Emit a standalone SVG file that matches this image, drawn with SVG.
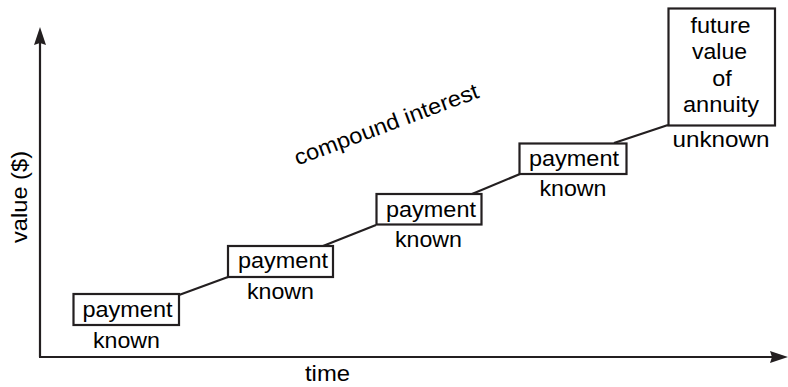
<svg xmlns="http://www.w3.org/2000/svg" width="788" height="387" viewBox="0 0 788 387">
<style>
  text { font-family: "Liberation Sans", Arial, sans-serif; font-size: 22px; fill: #000; text-anchor: middle; }
  .box { fill: #fff; stroke: #231f20; stroke-width: 2.2; }
  .ln { stroke: #231f20; stroke-width: 2.2; fill: none; }
</style>
<rect width="788" height="387" fill="#fff"/>
<g id="axes">
  <line class="ln" x1="40" y1="42" x2="40" y2="357"/>
  <polygon points="40,27 46,45 40,43 34,45" fill="#231f20"/>
  <line class="ln" x1="39" y1="357" x2="780" y2="357"/>
  <polygon points="788,357 770,351 772,357 770,363" fill="#231f20"/>
  <text x="0" y="0" transform="translate(27 197) rotate(-90)" textLength="92" lengthAdjust="spacingAndGlyphs">value ($)</text>
  <text x="327.5" y="380.5" textLength="45" lengthAdjust="spacingAndGlyphs">time</text>
</g>
<g id="connectors">
  <line class="ln" x1="179" y1="295" x2="228" y2="277"/>
  <line class="ln" x1="323" y1="246" x2="376" y2="225"/>
  <line class="ln" x1="472" y1="194" x2="520" y2="174"/>
  <line class="ln" x1="614" y1="143" x2="668" y2="125"/>
</g>
<g id="label-compound">
  <text x="0" y="0" transform="translate(297.5 165.5) rotate(-20.5)" style="text-anchor:start" textLength="195" lengthAdjust="spacingAndGlyphs">compound interest</text>
</g>
<g id="node1">
  <rect class="box" x="73.5" y="294" width="105.5" height="31"/>
  <text x="127.5" y="317" textLength="90" lengthAdjust="spacingAndGlyphs">payment</text>
  <text x="126.5" y="348" textLength="67" lengthAdjust="spacingAndGlyphs">known</text>
</g>
<g id="node2">
  <rect class="box" x="228" y="246" width="105" height="31"/>
  <text x="283" y="267.5" textLength="90" lengthAdjust="spacingAndGlyphs">payment</text>
  <text x="280.5" y="299" textLength="67" lengthAdjust="spacingAndGlyphs">known</text>
</g>
<g id="node3">
  <rect class="box" x="376.5" y="194" width="105" height="30.5"/>
  <text x="431" y="216.5" textLength="90" lengthAdjust="spacingAndGlyphs">payment</text>
  <text x="428.5" y="247" textLength="67" lengthAdjust="spacingAndGlyphs">known</text>
</g>
<g id="node4">
  <rect class="box" x="519.5" y="143.5" width="107" height="30.5"/>
  <text x="574" y="165.5" textLength="90" lengthAdjust="spacingAndGlyphs">payment</text>
  <text x="573" y="195.5" textLength="67" lengthAdjust="spacingAndGlyphs">known</text>
</g>
<g id="node5">
  <rect class="box" x="668.5" y="8.5" width="106.5" height="117"/>
  <text x="720.5" y="32.5" textLength="60" lengthAdjust="spacingAndGlyphs">future</text>
  <text x="719.5" y="59" textLength="55" lengthAdjust="spacingAndGlyphs">value</text>
  <text x="722" y="85.5" textLength="19.5" lengthAdjust="spacingAndGlyphs">of</text>
  <text x="721" y="112" textLength="76" lengthAdjust="spacingAndGlyphs">annuity</text>
  <text x="721" y="147" textLength="97" lengthAdjust="spacingAndGlyphs">unknown</text>
</g>
</svg>
